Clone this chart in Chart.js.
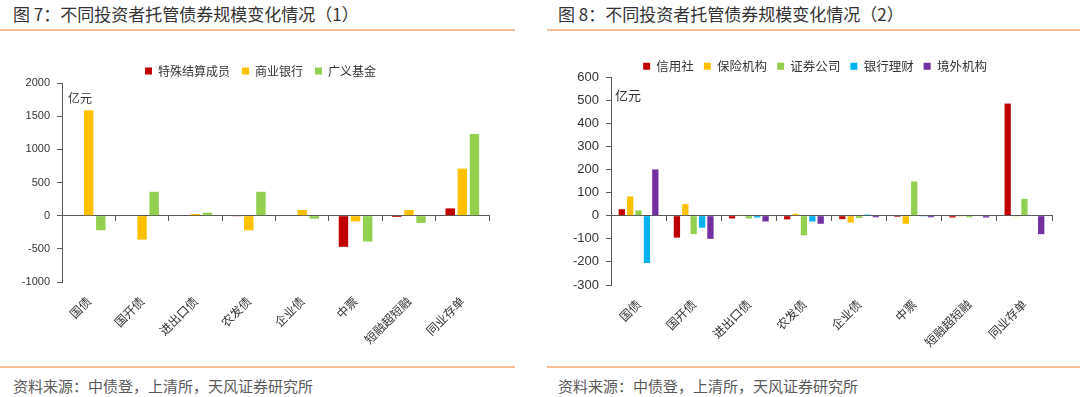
<!DOCTYPE html>
<html>
<head>
<meta charset="utf-8">
<script src="https://cdn.jsdelivr.net/npm/chart.js@4"></script>
<style>
  body { margin: 0; width: 1080px; height: 397px; background: #fff; position: relative; overflow: hidden;
         font-family: "Noto Sans CJK SC", "Noto Sans", sans-serif; }
  .title { position: absolute; top: 3px; font-size: 17px; line-height: 22px; color: #333; }
  .source { position: absolute; top: 376px; font-size: 15px; line-height: 20px; color: #595959; }
  .rule { position: absolute; height: 2px; background: #f6be94; }
  .unit { position: absolute; color: #333; line-height: 16px; }
  canvas { position: absolute; }
</style>
</head>
<body>
<div class="title" style="left:13px">图 7：不同投资者托管债券规模变化情况（1）</div>
<div class="title" style="left:558px">图 8：不同投资者托管债券规模变化情况（2）</div>
<div class="rule" style="left:0;width:515px;top:29px"></div>
<div class="rule" style="left:547px;width:533px;top:29px"></div>

<div style="position:absolute;left:0;top:40px;width:521px;height:320px"><canvas id="chart1"></canvas></div>
<div style="position:absolute;left:550px;top:40px;width:530px;height:320px"><canvas id="chart2"></canvas></div>
<div class="unit" style="left:68px;top:90px;font-size:12px">亿元</div>
<div class="unit" style="left:615px;top:87px;font-size:13px">亿元</div>

<div class="rule" style="left:0;width:515px;top:366px"></div>
<div class="rule" style="left:547px;width:533px;top:366px"></div>
<div class="source" style="left:13px">资料来源：中债登，上清所，天风证券研究所</div>
<div class="source" style="left:558px">资料来源：中债登，上清所，天风证券研究所</div>

<script>
// 券种
let cats = ['国债', '国开债', '进出口债', '农发债', '企业债', '中票', '短融超短融', '同业存单'];

// 图7 (亿元)
let teshu = [0, -8, 0, -5, 0, -470, -20, 110];
let shangye = [1590, -360, 25, -220, 85, -85, 85, 710];
let guangyi = [-220, 360, 45, 360, -45, -390, -110, 1230];

// 图8 (亿元)
let xinyong = [28, -95, -12, -16, -15, -5, -8, 485];
let baoxian = [83, 50, 3, 8, -30, -35, -3, -3];
let zhengquan = [23, -80, -12, -85, -10, 148, -7, 73];
let licai = [-205, -52, -8, -25, 5, -3, 0, 0];
let jingwai = [200, -100, -25, -35, -7, -7, -8, -80];

let red = '#c00000', yellow = '#ffc000', green = '#92d050', blue = '#00b0f0', purple = '#7030a0';
let axisColor = '#595959';

// fixed legend height + small sideways nudge so the plot and legend sit like the original
function legendBox(h, dx) {
    return {
        id: 'legendBox',
        beforeInit(chart) {
            let fit = chart.legend.fit;
            chart.legend.fit = function () { fit.call(this); this.height = h; };
        },
        afterLayout(chart) {
            chart.legend.left += dx;
            chart.legend.right += dx;
        }
    };
}

function bar_chart(elm, datasets, opt) {
    let ctx = document.getElementById(elm).getContext('2d');
    return new Chart(ctx, {
        type: 'bar',
        data: { labels: cats, datasets: datasets },
        plugins: [legendBox(opt.legendH, opt.legendDx)],
        options: {
            responsive: true,
            maintainAspectRatio: false,
            animation: false,
            layout: { padding: { top: opt.padTop, left: 0, right: opt.padRight, bottom: 0 } },
            datasets: { bar: { categoryPercentage: opt.catPct, barPercentage: opt.barPct } },
            plugins: {
                tooltip: { enabled: false },
                legend: {
                    position: 'top',
                    labels: {
                        boxWidth: 7, boxHeight: 7, padding: opt.legendPad, color: '#333',
                        font: { family: 'Noto Sans CJK SC', size: opt.legendFont }
                    }
                }
            },
            scales: {
                x: {
                    offset: true,
                    grid: { display: false },
                    border: { display: false },
                    ticks: {
                        autoSkip: false, minRotation: 45, maxRotation: 45, padding: 4, color: '#333',
                        font: { family: 'Noto Sans CJK SC', size: 12 }
                    },
                    afterFit: s => { s.height = opt.xH; }
                },
                // axis line at zero with category tick marks
                x0: {
                    axis: 'x',
                    type: 'category',
                    labels: cats,
                    position: { y: 0 },
                    offset: true,
                    grid: { offset: true, drawOnChartArea: false, tickLength: 5, color: axisColor },
                    border: { color: axisColor, width: 1 },
                    ticks: { display: false }
                },
                y: {
                    min: opt.min, max: opt.max,
                    ticks: {
                        stepSize: opt.step, padding: 7, color: '#333',
                        font: { family: 'Liberation Sans', size: opt.yFont },
                        callback: v => String(v)
                    },
                    grid: { drawOnChartArea: false, tickLength: 5, color: axisColor },
                    border: { color: axisColor },
                    afterFit: s => { s.width = opt.yW; }
                }
            }
        }
    });
}

bar_chart('chart1', [
    { label: '特殊结算成员', data: teshu, backgroundColor: red },
    { label: '商业银行', data: shangye, backgroundColor: yellow },
    { label: '广义基金', data: guangyi, backgroundColor: green }
], { legendH: 30, legendDx: 16, padTop: 13, padRight: 32, xH: 78, yW: 62, min: -1000, max: 2000, step: 500,
     yFont: 11, legendFont: 12, legendPad: 12, catPct: 0.68, barPct: 0.78 });

bar_chart('chart2', [
    { label: '信用社', data: xinyong, backgroundColor: red },
    { label: '保险机构', data: baoxian, backgroundColor: yellow },
    { label: '证券公司', data: zhengquan, backgroundColor: green },
    { label: '银行理财', data: licai, backgroundColor: blue },
    { label: '境外机构', data: jingwai, backgroundColor: purple }
], { legendH: 27, legendDx: 14, padTop: 10, padRight: 28, xH: 75, yW: 61, min: -300, max: 600, step: 100,
     yFont: 13, legendFont: 12.5, legendPad: 10, catPct: 0.76, barPct: 0.75 });
</script>
</body>
</html>
